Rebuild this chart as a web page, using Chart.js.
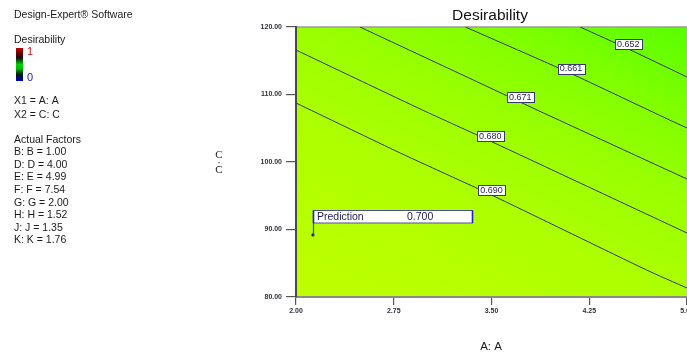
<!DOCTYPE html>
<html>
<head>
<meta charset="utf-8">
<title>Desirability</title>
<script src="https://cdn.jsdelivr.net/npm/chart.js@4.4.1/dist/chart.umd.min.js"></script>
<style>
  html, body { margin: 0; padding: 0; background: #ffffff; }
  #wrap { width: 687px; height: 356px; }
</style>
</head>
<body>
<div id="wrap"><canvas id="c" width="687" height="356"></canvas></div>
<script>
// Contour levels of the desirability surface (A on x, C on y)
const levels = ['0.652', '0.661', '0.671', '0.680', '0.690'];
const contourA = [
  [4.18, 4.55, 5.00],
  [3.30, 4.10, 4.85, 5.00],
  [2.49, 3.41, 3.85, 5.00],
  [2.00, 2.97, 3.49, 5.00],
  [2.00, 2.80, 3.50, 4.69, 5.00]
];
const contourC = [
  [120.00, 116.74, 112.59],
  [120.00, 113.19, 106.37, 105.04],
  [120.00, 111.70, 107.70, 97.48],
  [116.59, 107.70, 103.11, 89.48],
  [108.74, 101.33, 95.11, 84.00, 81.33]
];
// Where each contour value is written
const labelA = [4.55, 4.11, 3.72, 3.49, 3.50];
const labelC = [117.41, 113.85, 109.56, 103.85, 95.85];

// Predicted optimum
const predictionA = [2.13];
const predictionC = [89.19];
const predictionValue = '0.700';

// Axis ticks
const xTicks = [2.00, 2.75, 3.50, 4.25, 5.00];
const yTicks = [80, 90, 100, 110, 120];

// Side panel
const softwareName = 'Design-Expert® Software';
const responseName = 'Desirability';
const scaleHigh = '1';
const scaleLow = '0';
const axisFactors = ['X1 = A: A', 'X2 = C: C'];
const actualHeader = 'Actual Factors';
const actualFactors = ['B: B = 1.00', 'D: D = 4.00', 'E: E = 4.99', 'F: F = 7.54',
                       'G: G = 2.00', 'H: H = 1.52', 'J: J = 1.35', 'K: K = 1.76'];
const chartTitle = 'Desirability';
const xTitle = 'A: A';
const yTitle = 'C: C';

const SANS = '"Liberation Sans", Arial, sans-serif';
const SERIF = '"Liberation Serif", "DejaVu Serif", serif';

const datasets = levels.map((lv, i) => ({
  label: lv,
  data: contourA[i].map((a, j) => ({ x: a, y: contourC[i][j] })),
  showLine: true,
  borderColor: '#353558',
  borderWidth: 1,
  pointRadius: 0,
  pointHoverRadius: 0,
  tension: 0.2,
  fill: false
}));
datasets.push({
  label: 'Prediction',
  data: predictionA.map((a, j) => ({ x: a, y: predictionC[j] })),
  showLine: false,
  pointRadius: 1.6,
  pointHoverRadius: 0,
  pointBackgroundColor: '#2b2b90',
  pointBorderWidth: 0
});
const predIndex = datasets.length - 1;

// Surface shading, panel text, contour labels and the prediction flag
const surfacePlugin = {
  id: 'surface',
  beforeDraw(chart) {
    const { ctx, chartArea: a } = chart;
    ctx.save();
    ctx.fillStyle = '#ffffff';
    ctx.fillRect(0, 0, chart.width, chart.height);
    // shading runs across the contour direction
    const g = ctx.createLinearGradient(a.left, a.bottom, a.left + 175, a.top - 102);
    g.addColorStop(0.00, 'rgb(192,255,0)');
    g.addColorStop(0.40, 'rgb(173,255,0)');
    g.addColorStop(0.60, 'rgb(155,255,0)');
    g.addColorStop(0.80, 'rgb(128,255,0)');
    g.addColorStop(1.00, 'rgb(88,255,0)');
    ctx.fillStyle = g;
    ctx.fillRect(a.left, a.top, a.right - a.left, a.bottom - a.top);
    // top frame line
    ctx.strokeStyle = '#9a9a9a';
    ctx.lineWidth = 1.5;
    ctx.beginPath();
    ctx.moveTo(a.left, a.top);
    ctx.lineTo(a.right, a.top);
    ctx.stroke();
    ctx.restore();
  },
  afterDatasetsDraw(chart) {
    const { ctx, scales: { x, y } } = chart;
    ctx.save();
    // contour value labels
    ctx.font = '9px ' + SANS;
    ctx.textAlign = 'center';
    ctx.textBaseline = 'middle';
    levels.forEach((lv, i) => {
      const px = x.getPixelForValue(labelA[i]);
      const py = y.getPixelForValue(labelC[i]);
      const w = ctx.measureText(lv).width + 4;
      const h = 10;
      ctx.fillStyle = '#ffffff';
      ctx.fillRect(Math.round(px - w / 2) + 0.5, Math.round(py - h / 2) + 0.5, Math.round(w), h);
      ctx.strokeStyle = '#3a3a70';
      ctx.lineWidth = 1;
      ctx.strokeRect(Math.round(px - w / 2) + 0.5, Math.round(py - h / 2) + 0.5, Math.round(w), h);
      ctx.fillStyle = '#25255a';
      ctx.fillText(lv, px, py + 0.5);
    });
    // prediction flag
    const pt = chart.getDatasetMeta(predIndex).data[0];
    const px = Math.round(pt.x) + 0.5;
    const py = pt.y;
    const top = Math.round(py - 24.5) + 0.5;
    const bw = 159, bh = 12.5;
    ctx.strokeStyle = '#3b3bb0';
    ctx.lineWidth = 1.2;
    ctx.beginPath();
    ctx.moveTo(px, py);
    ctx.lineTo(px, top);
    ctx.stroke();
    ctx.fillStyle = '#ffffff';
    ctx.fillRect(px, top, bw, bh);
    ctx.strokeStyle = '#50509a';
    ctx.lineWidth = 1;
    ctx.strokeRect(px, top, bw, bh);
    ctx.strokeStyle = '#2020d0';
    ctx.lineWidth = 1.6;
    ctx.beginPath();
    ctx.moveTo(px + bw, top);
    ctx.lineTo(px + bw, top + bh);
    ctx.moveTo(px, top);
    ctx.lineTo(px, top + bh);
    ctx.stroke();
    ctx.font = '10.5px ' + SANS;
    ctx.textAlign = 'left';
    ctx.fillStyle = '#1c1c50';
    ctx.fillText('Prediction', px + 3.5, top + bh / 2 + 0.5);
    ctx.fillText(predictionValue, px + 93.5, top + bh / 2 + 0.5);
    ctx.restore();
  },
  afterDraw(chart) {
    const { ctx, chartArea: a } = chart;
    ctx.save();
    ctx.textBaseline = 'middle';
    // title
    ctx.fillStyle = '#111111';
    ctx.textAlign = 'center';
    ctx.font = '15.5px ' + SANS;
    ctx.fillText(chartTitle, 490, 16);
    // x title
    ctx.font = '11.5px ' + SANS;
    ctx.fillStyle = '#1a1a1a';
    ctx.fillText(xTitle, 491, 347);
    // y title, stacked characters
    ctx.font = '11px ' + SERIF;
    ctx.fillStyle = '#222222';
    const chars = yTitle.split('').filter(ch => ch !== ' ');
    const ys = [155, 164.5, 170];
    chars.forEach((ch, i) => ctx.fillText(ch, 219, ys[i]));

    // side panel
    ctx.textAlign = 'left';
    ctx.font = '10.5px ' + SANS;
    ctx.fillStyle = '#1a1a1a';
    ctx.fillText(softwareName, 14, 15);
    ctx.fillText(responseName, 14, 40);
    const cb = ctx.createLinearGradient(0, 48, 0, 81);
    cb.addColorStop(0.00, '#c00000');
    cb.addColorStop(0.18, '#600000');
    cb.addColorStop(0.30, '#101010');
    cb.addColorStop(0.50, '#00d000');
    cb.addColorStop(0.62, '#00c000');
    cb.addColorStop(0.80, '#001a10');
    cb.addColorStop(1.00, '#0000c0');
    ctx.fillStyle = cb;
    ctx.fillRect(16, 48, 7, 33);
    ctx.font = '11px ' + SANS;
    ctx.fillStyle = '#cc1010';
    ctx.fillText(scaleHigh, 27, 52);
    ctx.fillStyle = '#2020a0';
    ctx.fillText(scaleLow, 27, 77.5);
    ctx.font = '10.5px ' + SANS;
    ctx.fillStyle = '#1a1a1a';
    axisFactors.forEach((t, i) => ctx.fillText(t, 14, 101 + i * 14));
    ctx.fillText(actualHeader, 14, 140);
    actualFactors.forEach((t, i) => ctx.fillText(t, 14, 152.5 + i * 12.55));
    ctx.restore();
  }
};

new Chart(document.getElementById('c'), {
  type: 'scatter',
  data: { datasets },
  options: {
    responsive: false,
    animation: false,
    events: [],
    layout: { autoPadding: false, padding: { left: 236, top: 27, right: 0, bottom: 29 } },
    plugins: {
      legend: { display: false },
      tooltip: { enabled: false },
      title: { display: false }
    },
    scales: {
      x: {
        type: 'linear',
        min: 2, max: 5,
        afterBuildTicks(s) { s.ticks = xTicks.map(v => ({ value: v })); },
        afterFit(s) { s.height = 30; s.paddingLeft = 0; s.paddingRight = 0; },
        ticks: {
          callback: v => Number(v).toFixed(2),
          font: { size: 7, weight: 'bold', family: SANS },
          color: '#30303c',
          padding: 2,
          maxRotation: 0,
          autoSkip: false
        },
        grid: { drawOnChartArea: false, drawTicks: true, tickLength: 8, tickColor: '#555555', lineWidth: 1.2 },
        border: { display: true, color: '#8a8a8a', width: 2 }
      },
      y: {
        type: 'linear',
        min: 80, max: 120,
        afterBuildTicks(s) { s.ticks = yTicks.map(v => ({ value: v })); },
        afterFit(s) { s.width = 60; s.paddingTop = 0; s.paddingBottom = 0; },
        ticks: {
          callback: v => Number(v).toFixed(2),
          font: { size: 7, weight: 'bold', family: SANS },
          color: '#30303c',
          padding: 4,
          autoSkip: false
        },
        grid: { drawOnChartArea: false, drawTicks: true, tickLength: 10, tickColor: '#555555', lineWidth: 1.2 },
        border: { display: true, color: '#4a4a4a', width: 2 }
      }
    }
  },
  plugins: [surfacePlugin]
});
</script>
</body>
</html>
